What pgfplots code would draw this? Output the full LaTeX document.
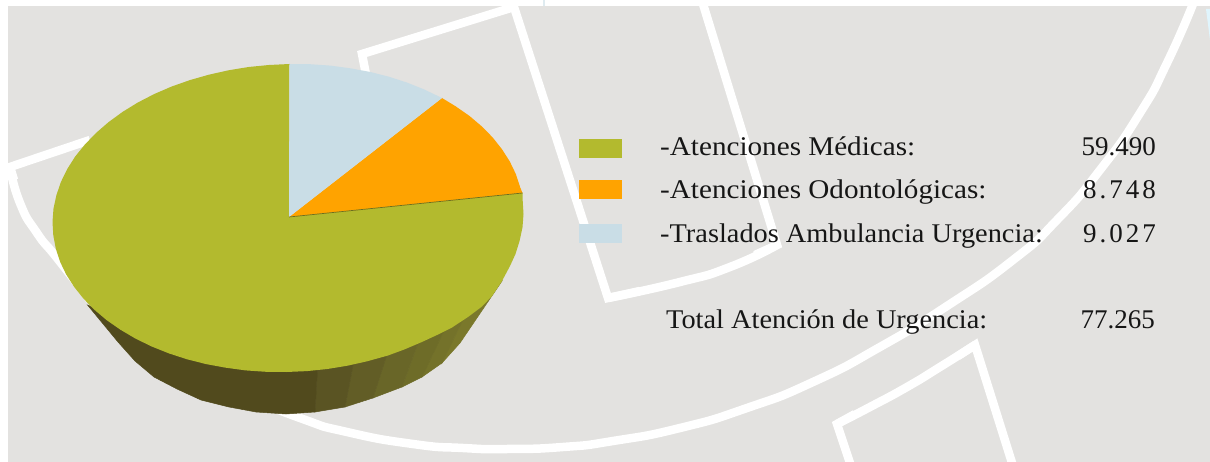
\documentclass[border=0pt]{standalone}
\usepackage{fontspec}
\setmainfont{Liberation Serif}
\newfontfamily\labfont[FakeStretch=1.05]{Liberation Serif}
\newfontfamily\labwide[FakeStretch=1.08]{Liberation Serif}
\newfontfamily\numfont{Liberation Serif}
\newfontfamily\numwide[LetterSpace=11]{Liberation Serif}
\usepackage{pgfplots}
\pgfplotsset{compat=1.18}
\definecolor{bg}{HTML}{E3E2E0}
\definecolor{oliveA}{HTML}{B3BA2E}
\definecolor{orangeA}{HTML}{FFA300}
\definecolor{blueA}{HTML}{C9DDE6}
\definecolor{ink}{HTML}{161616}
\definecolor{fa}{HTML}{514A1D}
\definecolor{fb}{HTML}{5A5423}
\definecolor{fc}{HTML}{625D26}
\definecolor{fd}{HTML}{696628}
\definecolor{fe}{HTML}{6E6C28}
\definecolor{ff}{HTML}{74722A}
\definecolor{fg}{HTML}{7A782B}
\begin{document}
\begin{tikzpicture}
\begin{axis}[
  scale only axis, width=1210pt, height=462pt,
  xmin=0, xmax=1210, ymin=0, ymax=462, y dir=reverse,
  hide axis, clip=true]
% page and panel
\addplot[fill=white,draw=none] coordinates {(0,0)(1210,0)(1210,462)(0,462)} --cycle;
\addplot[fill=bg,draw=none] coordinates {(8,6)(1210,6)(1210,462)(8,462)} --cycle;
\addplot[fill=blueA!60,draw=none] coordinates {(543,0)(545,0)(545,6)(543,6)} --cycle;
\addplot[fill=cyan!12,draw=none] coordinates {(1206,9)(1210,9)(1210,40)} --cycle;
% white background figure
\addplot[white,line width=8.5pt,smooth,tension=1] coordinates {(1193,4)(1167,63)(1140,113)(1100,170)(1057,220)(1013,260)(947,306)(880,347)(813,382)(747,408)(680,428)(613,441)(563,447)(507,449)(463,448)(413,444)(347,432)(300,418)(230,390)};
\addplot[white,line width=8.5pt,smooth,tension=1] coordinates {(10,167)(20,203)(37,233)(57,258)(90,300)};
\addplot[white,line width=8.5pt,line join=miter] coordinates {(90,140)(10,167)(14,180)};
\addplot[white,line width=8.5pt,line join=miter] coordinates {(370,95)(362,54)(514,7)(608,298)(640,291)};
\addplot[white,line width=8.5pt,smooth,tension=1] coordinates {(608,298)(680,282)(730,267)(777,245)};
\addplot[white,line width=8.5pt,line join=miter] coordinates {(703,4)(777,245)(755,255)};
\addplot[white,line width=8.5pt,smooth,tension=1] coordinates {(837,424)(870,407)(907,387)(940,367)(975,345)};
\addplot[white,line width=8.5pt,line join=miter] coordinates {(851,466)(837,424)(855,414)};
\addplot[white,line width=8.5pt,line join=miter] coordinates {(958,356)(975,345)(1013,466)};
% side wall of the pie
\addplot[fill=fg,draw=fg,line width=0.5pt] coordinates {(442,363)(460,343)(502,281)(470,305)} --cycle;
\addplot[fill=ff,draw=ff,line width=0.5pt] coordinates {(422,377)(442,363)(470,305)(450,318)} --cycle;
\addplot[fill=fe,draw=fe,line width=0.5pt] coordinates {(402,387)(422,377)(450,318)(422,332)} --cycle;
\addplot[fill=fd,draw=fd,line width=0.5pt] coordinates {(373,398)(402,387)(422,332)(390,345)} --cycle;
\addplot[fill=fc,draw=fc,line width=0.5pt] coordinates {(345,407)(373,398)(390,345)(355,355)} --cycle;
\addplot[fill=fb,draw=fb,line width=0.5pt] coordinates {(315,412)(345,407)(355,355)(318,360)} --cycle;
\addplot[fill=fa,draw=fa,line width=0.5pt] coordinates {(87.5,305)(118,342)(135,361)(154,377)(177,389)(201,400)(229,407)(256,412)(286,414)(315,412)(318,360)(135,325)} --cycle;
% top face of the pie
\addplot[fill=oliveA,draw=none] coordinates {(289,217)(522.5,193)(522.7,200.6)(523.5,214)(522.5,227.4)(519.6,240.8)(515.5,254)(510,266)(502,281)(492,296)(482,306.5)(468,317)(452,327.5)(437,335)(421.9,342)(404.5,349.4)(388,355.5)(367.1,361.3)(347.5,365.7)(327.4,369)(307,371.1)(286.5,372)(266,371.8)(245.6,370.4)(225.7,367.7)(206.1,364.1)(187.1,359.3)(168.9,353.4)(151.7,346.5)(135.5,338.6)(120.4,329.7)(106.6,320.1)(94.2,309.6)(83.3,298.5)(74,286.7)(66.2,274.5)(60.1,261.8)(55.8,248.6)(53.3,235.4)(52.5,222)(53.5,208.6)(56.4,195.2)(60.9,182)(67.2,169.1)(75.2,156.5)(84.9,144.5)(96,133)(108.6,122.1)(122.6,111.9)(137.7,102.6)(154.1,94.1)(171.5,86.6)(189.9,80.1)(208.9,74.7)(228.5,70.3)(248.6,67)(269,65)(289.5,64)} --cycle;
\addplot[fill=orangeA,draw=none] coordinates {(289,217)(442,98)(455.6,106.3)(469.4,115.9)(481.8,126.4)(492.7,137.5)(502,149.3)(509.8,161.5)(515.9,174.2)(520.2,187.4)(522.5,193)} --cycle;
\addplot[fill=blueA,draw=none] coordinates {(289,217)(289.5,64)(310,64.2)(330.4,65.6)(350.3,68.3)(369.9,71.9)(388.9,76.7)(407.1,82.6)(424.3,89.5)(442,98)} --cycle;
\addplot[oliveA!60!black,line width=0.7pt] coordinates {(289,217)(522.5,193)};
% legend swatches
\addplot[fill=oliveA,draw=none] coordinates {(579,139)(622,139)(622,158)(579,158)} --cycle;
\addplot[fill=orangeA,draw=none] coordinates {(579,180)(622,180)(622,199)(579,199)} --cycle;
\addplot[fill=blueA,draw=none] coordinates {(579,224)(622,224)(622,243)(579,243)} --cycle;
% text
\tikzset{lab/.style={anchor=base west,inner sep=0pt,text=ink,font=\labfont\fontsize{27}{27}\selectfont}}
\tikzset{labw/.style={anchor=base west,inner sep=0pt,text=ink,font=\labwide\fontsize{27}{27}\selectfont}}
\tikzset{val/.style={anchor=base east,inner sep=0pt,text=ink,font=\numfont\fontsize{27}{27}\selectfont}}
\node[labw] at (axis cs:660,156) {-Atenciones Médicas:};
\node[labw] at (axis cs:660,199) {-Atenciones Odontológicas:};
\node[lab] at (axis cs:660,243) {-Traslados Ambulancia Urgencia:};
\node[lab] at (axis cs:666,329) {Total Atención de Urgencia:};
\node[val] at (axis cs:1156,156) {59.490};
\node[val] at (axis cs:1156,199) {\numwide\fontsize{27}{27}\selectfont 8.748};
\node[val] at (axis cs:1156,243) {\numwide\fontsize{27}{27}\selectfont 9.027};
\node[val] at (axis cs:1155,329) {77.265};
\end{axis}
\end{tikzpicture}
\end{document}
